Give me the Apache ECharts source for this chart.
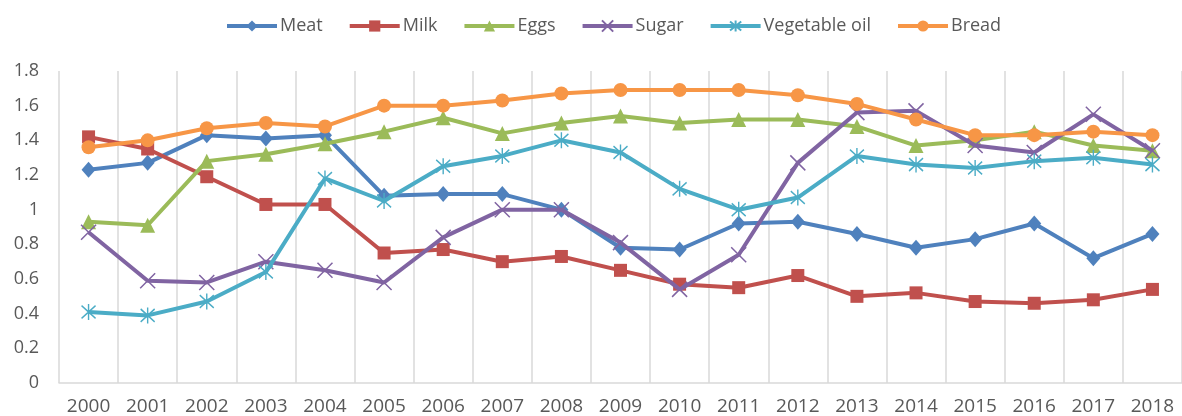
<!DOCTYPE html>
<html>
<head>
<meta charset="utf-8">
<script src="https://cdn.jsdelivr.net/npm/echarts@6/dist/echarts.min.js"></script>
<style>
html,body{margin:0;padding:0;background:#fff;}
#chart{width:1182px;height:416px;}
</style>
</head>
<body>
<div id="chart"></div>
<script>
const years = ['2000','2001','2002','2003','2004','2005','2006','2007','2008','2009','2010','2011','2012','2013','2014','2015','2016','2017','2018'];
const meat = [1.23,1.27,1.43,1.41,1.43,1.08,1.09,1.09,1.00,0.78,0.77,0.92,0.93,0.86,0.78,0.83,0.92,0.72,0.86];
const milk = [1.42,1.35,1.19,1.03,1.03,0.75,0.77,0.70,0.73,0.65,0.57,0.55,0.62,0.50,0.52,0.47,0.46,0.48,0.54];
const eggs = [0.93,0.91,1.28,1.32,1.38,1.45,1.53,1.44,1.50,1.54,1.50,1.52,1.52,1.48,1.37,1.40,1.45,1.37,1.34];
const sugar = [0.87,0.59,0.58,0.70,0.65,0.58,0.84,1.00,1.00,0.81,0.54,0.74,1.27,1.56,1.57,1.37,1.33,1.55,1.34];
const vegOil = [0.41,0.39,0.47,0.64,1.18,1.05,1.25,1.31,1.40,1.33,1.12,1.00,1.07,1.31,1.26,1.24,1.28,1.30,1.26];
const bread = [1.36,1.40,1.47,1.50,1.48,1.60,1.60,1.63,1.67,1.69,1.69,1.69,1.66,1.61,1.52,1.43,1.43,1.45,1.43];
const seriesNames = ['Meat','Milk','Eggs','Sugar','Vegetable oil','Bread'];
const yTicks = {min:0, max:1.8, interval:0.2};

const colors = ['#4F81BD','#C0504D','#9BBB59','#8064A2','#4BACC6','#F79646'];
const xPath = 'path://M0,0L10,10M10,0L0,10';
const starPath = 'path://M1,1L9,9M9,1L1,9M5,0L5,10';
const symbols = [
  {symbol:'diamond', size:[14,16], bw:0},
  {symbol:'rect', size:13, bw:0},
  {symbol:'triangle', size:15, bw:0},
  {symbol:xPath, size:15, bw:1.5},
  {symbol:starPath, size:[14,16], bw:1.5},
  {symbol:'circle', size:14, bw:0}
];
const datas = [meat, milk, eggs, sugar, vegOil, bread];

const font = 'Open Sans';
const chart = echarts.init(document.getElementById('chart'), null, {renderer:'canvas'});
chart.setOption({
  animation:false,
  color: colors,
  legend:{
    left:220, top:12,
    itemWidth:50, itemHeight:14, itemGap:25,
    lineStyle:{width:4},
    textStyle:{fontFamily:font, fontSize:18, color:'#595959', padding:[0,0,0,-2]},
    data: seriesNames
  },
  grid:{left:59, top:71, width:1132, height:312, containLabel:false},
  xAxis:{
    type:'category',
    data: years,
    boundaryGap:true,
    axisLine:{lineStyle:{color:'#d9d9d9', width:1.5}},
    axisTick:{show:false},
    splitLine:{show:true, lineStyle:{color:'#d9d9d9', width:1.5}},
    axisLabel:{fontFamily:font, fontSize:19, color:'#595959', margin:14, interval:0}
  },
  yAxis:{
    type:'value',
    min:yTicks.min, max:yTicks.max, interval:yTicks.interval,
    axisLine:{show:false},
    axisTick:{show:false},
    splitLine:{show:false},
    axisLabel:{fontFamily:font, fontSize:18, color:'#595959', margin:20}
  },
  series: seriesNames.map((n,i)=>({
    name:n,
    type:'line',
    data: datas[i],
    symbol: symbols[i].symbol,
    symbolSize: symbols[i].size,
    showAllSymbol:true,
    lineStyle:{width:4, color:colors[i]},
    itemStyle:{color:colors[i], borderColor:colors[i], borderWidth:symbols[i].bw},
    z: 2+i
  }))
});
</script>
</body>
</html>
